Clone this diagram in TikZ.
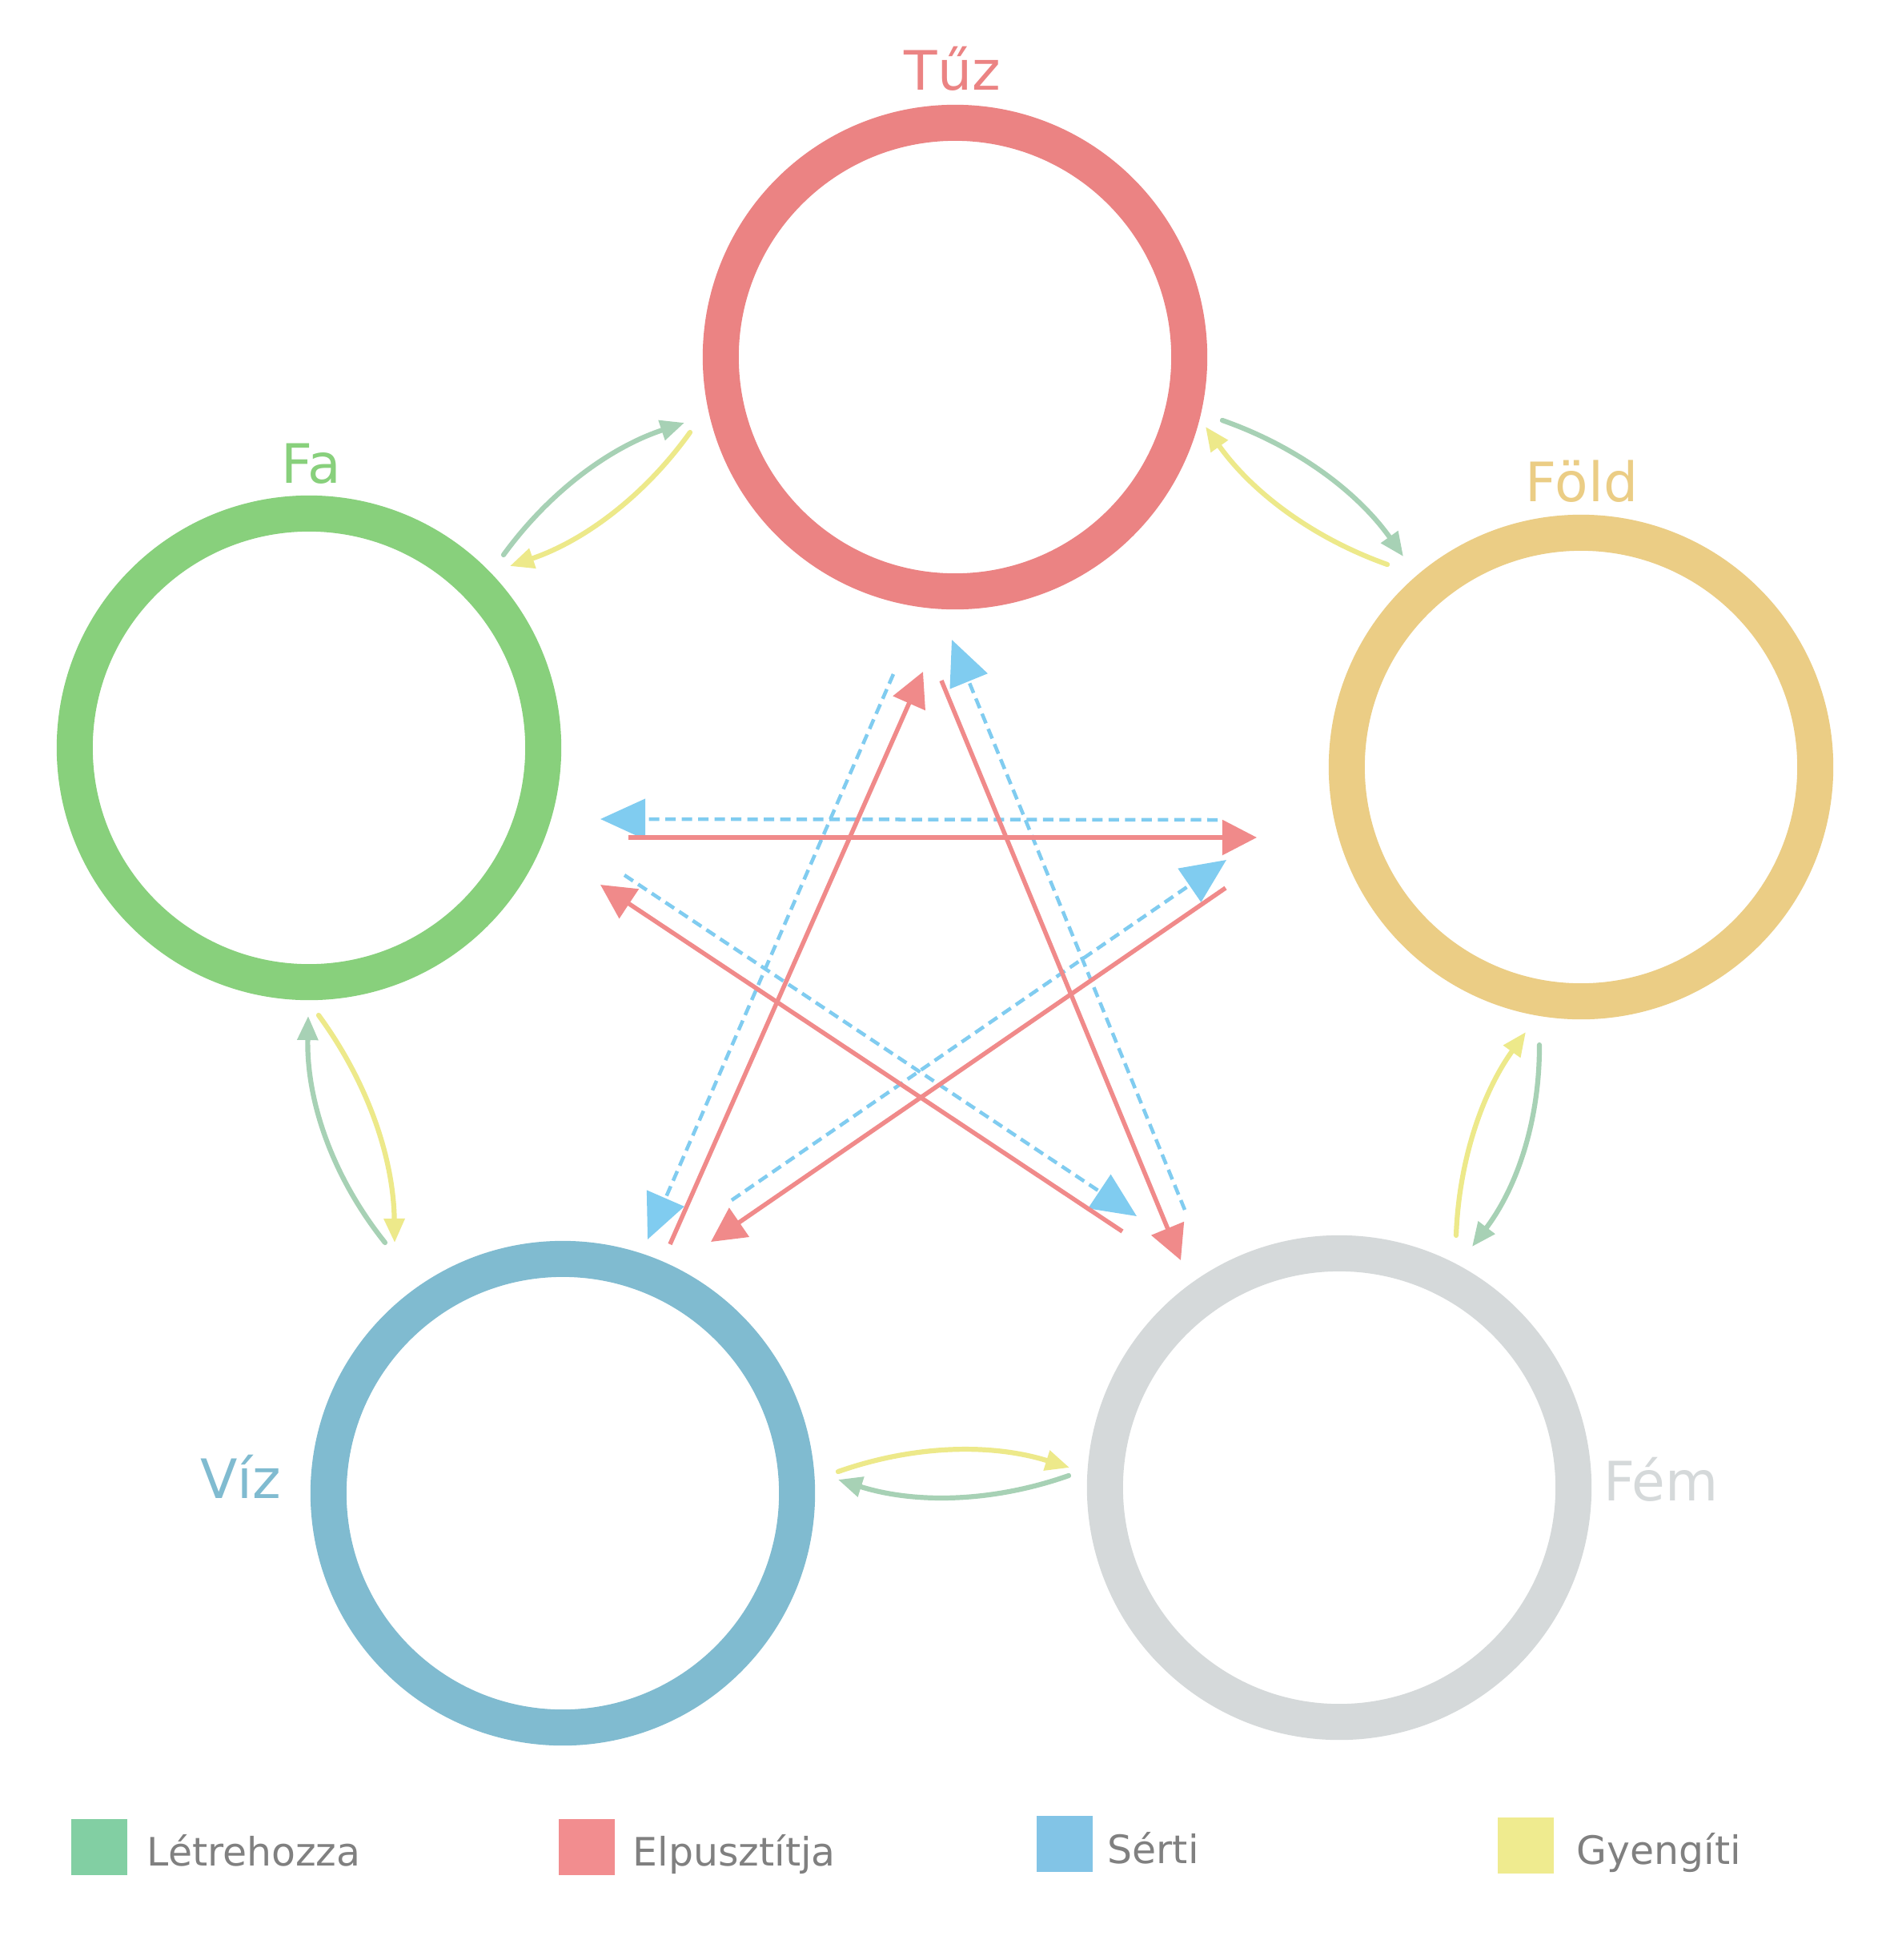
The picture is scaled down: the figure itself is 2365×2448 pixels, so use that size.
\documentclass[tikz,border=0pt]{standalone}
\usepackage{fontspec}
\setmainfont{DejaVu Sans}
\usetikzlibrary{arrows.meta}
\definecolor{ctuz}{HTML}{EB8383}
\definecolor{cfa}{HTML}{88D07C}
\definecolor{cfold}{HTML}{EBCD85}
\definecolor{cviz}{HTML}{80BBD0}
\definecolor{cfem}{HTML}{D5D9DA}
\definecolor{agreen}{HTML}{A7D1B5}
\definecolor{ayellow}{HTML}{EDE98A}
\definecolor{sred}{HTML}{F08A8A}
\definecolor{sblue}{HTML}{80CCF0}
\definecolor{lgreen}{HTML}{82CFA3}
\definecolor{lred}{HTML}{F28D8F}
\definecolor{lblue}{HTML}{82C4E6}
\definecolor{lyellow}{HTML}{EFEB8F}
\definecolor{ltext}{HTML}{808080}
\begin{document}
\begin{tikzpicture}[x=0.01cm,y=-0.01cm,
  ring/.style={circle, draw, line width=0.45cm, minimum size=5.85cm, inner sep=0pt, outer sep=0pt},
  lbl/.style={anchor=base, inner sep=0pt, font=\fontsize{19.3}{23}\selectfont},
  cgreen/.style={draw=agreen, line width=0.062cm, line cap=round, -{Triangle[length=0.30cm,width=0.25cm]}},
  cyellow/.style={draw=ayellow, line width=0.062cm, line cap=round, -{Triangle[length=0.30cm,width=0.25cm]}},
  dred/.style={draw=sred, line width=0.055cm, -{Triangle[length=0.43cm,width=0.43cm]}},
  dblue/.style={draw=sblue, line width=0.045cm, dash pattern=on 0.13cm off 0.075cm, -{Triangle[length=0.56cm,width=0.5cm]}},
  sq/.style={draw=none, minimum size=0.70cm, inner sep=0pt},
  ltxt/.style={anchor=base west, inner sep=0pt, text=ltext, font=\fontsize{13.9}{17}\selectfont}
]
\useasboundingbox (0,0) rectangle (2365,2448);
\fill[white] (0,0) rectangle (2365,2448);

% element circles
\node[ring, draw=ctuz] (tuz) at (1193,446) {};
\node[ring, draw=cfa] (fa) at (386,934) {};
\node[ring, draw=cfold] (fold) at (1975,958) {};
\node[ring, draw=cviz] (viz) at (703,1865) {};
\node[ring, draw=cfem] (fem) at (1673,1858) {};

% labels
\node[lbl, text=ctuz] (ltuz) at (1190,112) {Tűz};
\node[lbl, text=cfa] (lfa) at (389,603) {Fa};
\node[lbl, text=cfold] (lfold) at (1976,626) {Föld};
\node[lbl, text=cviz] (lviz) at (301,1871) {Víz};
\node[lbl, text=cfem] (lfem) at (2075,1874) {Fém};

% curved arrow end points
\coordinate (g1s) at (629,693);  \coordinate (g1e) at (855,528);
\coordinate (y1s) at (862,540);  \coordinate (y1e) at (637,707);
\coordinate (g2s) at (1527,525); \coordinate (g2e) at (1753,695);
\coordinate (y2s) at (1733,705); \coordinate (y2e) at (1506,533);
\coordinate (y3s) at (1819,1543);\coordinate (y3e) at (1906,1289);
\coordinate (g3s) at (1923,1305);\coordinate (g3e) at (1839,1557);
\coordinate (y4s) at (1047,1838);\coordinate (y4e) at (1336,1833);
\coordinate (g4s) at (1335,1843);\coordinate (g4e) at (1047,1848);
\coordinate (g5s) at (481,1552); \coordinate (g5e) at (385,1269);
\coordinate (y5s) at (398,1268); \coordinate (y5e) at (493,1552);

\draw[cgreen]  (g1s) .. controls +(57.6,-79.2) and +(-93,30.8) .. (g1e);
\draw[cyellow] (y1s) .. controls +(-57.3,79.9) and +(92.7,-31.5) .. (y1e);
\draw[cgreen]  (g2s) .. controls +(93.3,32.7) and +(-57.3,-80.7) .. (g2e);
\draw[cyellow] (y2s) .. controls +(-93.7,-33.3) and +(57.7,81.3) .. (y2e);
\draw[cyellow] (y3s) .. controls +(3.5,-93.4) and +(-54.5,76) .. (y3e);
\draw[cgreen]  (g3s) .. controls +(0.5,93.5) and +(56.5,-74.5) .. (g3e);
\draw[cyellow] (y4s) .. controls +(95.8,-33.7) and +(-96.8,-30.3) .. (y4e);
\draw[cgreen]  (g4s) .. controls +(-96,33.7) and +(96,30.3) .. (g4e);
\draw[cgreen]  (g5s) .. controls +(-66.1,-82.7) and +(-2.1,105.9) .. (g5e);
\draw[cyellow] (y5s) .. controls +(62,84.6) and +(-1.4,-104.8) .. (y5e);

% star arrows
\coordinate (r1s) at (785,1046);  \coordinate (r1e) at (1570,1046);
\coordinate (b1s) at (1521,1024); \coordinate (b1e) at (750,1023);
\coordinate (r2s) at (837,1554);  \coordinate (r2e) at (1153,839);
\coordinate (b2s) at (1116,842);  \coordinate (b2e) at (809,1548);
\coordinate (r3s) at (1176,850);  \coordinate (r3e) at (1475,1574);
\coordinate (b3s) at (1480,1511); \coordinate (b3e) at (1189,799);
\coordinate (r4s) at (1531,1109); \coordinate (r4e) at (888,1551);
\coordinate (b4s) at (914,1499);  \coordinate (b4e) at (1532,1074);
\coordinate (r5s) at (1402,1538); \coordinate (r5e) at (750,1105);
\coordinate (b5s) at (780,1093);  \coordinate (b5e) at (1420,1519);

\draw[dblue] (b1s) -- (b1e);
\draw[dblue] (b2s) -- (b2e);
\draw[dblue] (b3s) -- (b3e);
\draw[dblue] (b4s) -- (b4e);
\draw[dblue] (b5s) -- (b5e);
\draw[dred] (r1s) -- (r1e);
\draw[dred] (r2s) -- (r2e);
\draw[dred] (r3s) -- (r3e);
\draw[dred] (r4s) -- (r4e);
\draw[dred] (r5s) -- (r5e);

% legend
\node[sq, fill=lgreen] (sq1) at (124,2307) {};
\node[ltxt] (t1) at (183,2330) {Létrehozza};
\node[sq, fill=lred] (sq2) at (733,2307) {};
\node[ltxt] (t2) at (790,2330) {Elpusztítja};
\node[sq, fill=lblue] (sq3) at (1330,2303) {};
\node[ltxt] (t3) at (1383,2327) {Sérti};
\node[sq, fill=lyellow] (sq4) at (1906,2305) {};
\node[ltxt] (t4) at (1969,2328) {Gyengíti};
\end{tikzpicture}
\end{document}
